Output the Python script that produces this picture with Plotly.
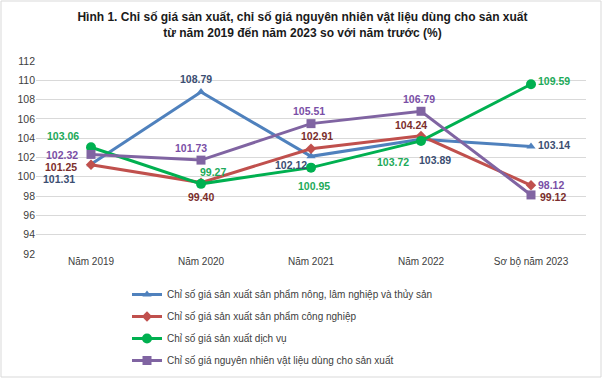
import plotly.graph_objects as go

categories = ["Năm 2019", "Năm 2020", "Năm 2021", "Năm 2022", "Sơ bộ năm 2023"]
nong_lam_thuy_san = [101.31, 108.79, 102.12, 103.89, 103.14]
cong_nghiep = [101.25, 99.40, 102.91, 104.24, 99.12]
dich_vu = [103.06, 99.27, 100.95, 103.72, 109.59]
nguyen_nhien_vat_lieu = [102.32, 101.73, 105.51, 106.79, 98.12]
series_names = [
    "Chỉ số giá sản xuất sản phẩm nông, lâm nghiệp và thủy sản",
    "Chỉ số giá sản xuất sản phẩm công nghiệp",
    "Chỉ số giá sản xuất dịch vụ",
    "Chỉ số giá nguyên nhiên vật liệu dùng cho sản xuất",
]
y_ticks = [92, 94, 96, 98, 100, 102, 104, 106, 108, 110, 112]

# styles
line_colors = ["#4F81BD", "#C0504D", "#00B050", "#8064A2"]
label_colors = ["#3B4E72", "#7B2E2C", "#1DAA5A", "#7A4FA6"]
symbols = ["triangle-up", "diamond", "circle", "square"]
msizes = [8, 8, 10, 9]
# label offsets (px) per point: (dx, dy) with dy downward positive
offsets = [
    [(-32, 15), (-5, -13), (-20, 9), (14, 21), (23, -2)],
    [(-30, 2), (0, 14), (6, -13), (-10, -11), (22, 11.5)],
    [(-28, -11.5), (12, -12), (3, 18), (-28, 20.6), (23, -3.5)],
    [(-29, 1), (-10, -12.6), (-2, -13), (-2, -12), (20, -9.5)],
]

FONT = "Liberation Sans, Arial, sans-serif"
all_series = [nong_lam_thuy_san, cong_nghiep, dich_vu, nguyen_nhien_vat_lieu]

fig = go.Figure()
annotations = []
for i, vals in enumerate(all_series):
    fig.add_trace(go.Scatter(
        x=categories, y=vals, mode="lines+markers", name=series_names[i],
        legendgroup=f"g{i}",
        line=dict(color=line_colors[i], width=3),
        marker=dict(symbol=symbols[i], size=msizes[i], color=line_colors[i]),
    ))
    for j, v in enumerate(vals):
        dx, dy = offsets[i][j]
        annotations.append(dict(
            x=categories[j], y=v, xref="x", yref="y", text=f"<b>{v:.2f}</b>",
            showarrow=False, xshift=dx, yshift=-dy,
            font=dict(family=FONT, size=10.5, color=label_colors[i]),
        ))

W, H = 605, 379
L, R, T, B = 36, 19, 61, 0
plot_bottom = 254
pw, ph = W - L - R, H - T - B
def px2x(px):
    return (px - L) / pw
def py2y(py):
    return 1 - (py - T) / ph

fig.update_layout(
    width=W, height=H,
    margin=dict(l=L, r=R, t=T, b=B, autoexpand=False),
    paper_bgcolor="white", plot_bgcolor="white",
    title=dict(
        text="Hình 1. Chỉ số giá sản xuất, chỉ số giá nguyên nhiên vật liệu dùng cho sản xuất<br>từ năm 2019 đến năm 2023 so với năm trước (%)",
        x=0.5, xanchor="center", y=1 - 21 / H, yanchor="top",
        font=dict(family=FONT, size=12, color="#1a1a1a", weight="bold"),
    ),
    font=dict(family=FONT, size=10, color="#404040"),
    xaxis=dict(
        range=[-0.5, 4.5],
        showgrid=False, showline=False, ticks="", zeroline=False,
        tickfont=dict(size=10, color="#404040"),
    ),
    yaxis=dict(
        range=[92, 112], tickvals=y_ticks, showgrid=True, gridcolor="#D9D9D9",
        gridwidth=1, zeroline=False, showline=False, ticks="",
        tickfont=dict(size=10.5, color="#404040"),
        domain=[py2y(plot_bottom), 1],
    ),
    legend=dict(
        x=px2x(127), y=py2y(280), xanchor="left", yanchor="top",
        font=dict(family=FONT, size=10, color="#404040"),
        tracegroupgap=3, bgcolor="rgba(0,0,0,0)",
    ),
    annotations=annotations,
    shapes=[dict(
        type="rect", xref="paper", yref="paper",
        x0=px2x(1), x1=px2x(601), y0=py2y(377), y1=py2y(1),
        line=dict(color="#D9D9D9", width=1), fillcolor="rgba(0,0,0,0)",
        layer="below",
    )],
    showlegend=True,
)

fig.write_html(
    "out.html",
    config={"displayModeBar": False},
    post_script="document.body.style.margin='0';document.body.style.overflow='hidden';",
)
